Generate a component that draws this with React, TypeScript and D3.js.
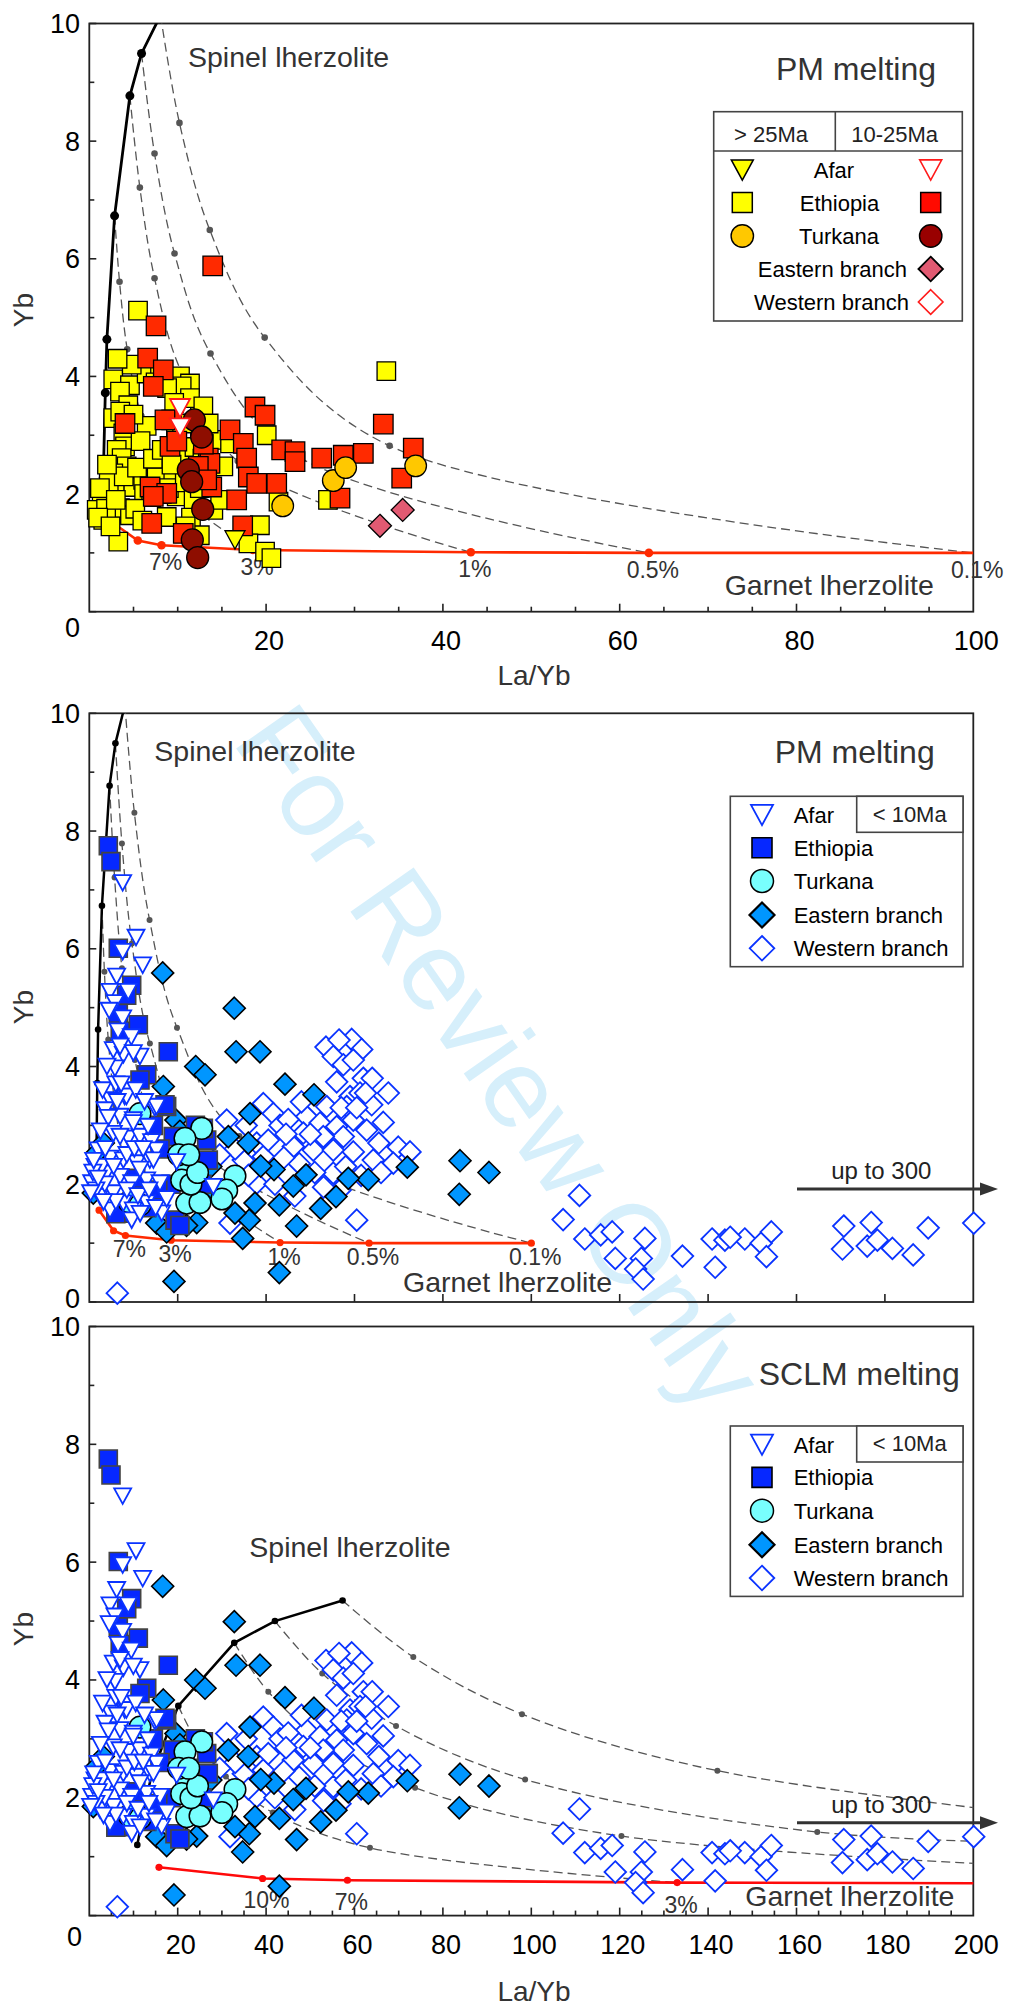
import React from 'react';
import * as d3 from 'd3';

type Pt = [number, number];

// ---------------- Panel 1 observations (PM melting, older lavas) ----------------
const ethiopiaOver25: Pt[] = [
  [5.51,5.12],[33.6,4.09],[2.71,3.95],[4.6,3.85],[3.47,3.74],[4.41,3.51],[6.49,4.05],[8.0,4.08],[10.26,4.0],
  [11.39,3.88],[10.45,3.83],[12.52,3.46],[11.39,3.63],[2.71,3.29],[6.49,3.16],[3.85,3.03],[4.04,2.81],[3.1,2.75],
  [3.66,2.61],[4.23,2.47],[2.71,2.35],[2.91,2.07],[1.4,1.96],[0.84,1.73],[1.58,1.56],[3.47,1.76],[4.6,1.64],
  [4.98,2.12],[6.1,2.24],[7.62,2.29],[9.5,2.35],[9.89,1.96],[8.76,1.61],[11.02,2.63],[14.03,2.92],[15.16,2.47],
  [14.03,1.73],[15.92,2.86],[20.07,3.0],[12.9,3.49],[12.52,3.03],[3.28,1.19],[19.3,1.47],[18.0,1.16],[19.88,1.02],
  [20.6,0.91],[21.4,1.87],[27.0,1.9],[14.8,1.9],[2.2,2.2],[1.9,1.75],[1.2,2.1],[3.0,1.9],[3.9,2.3],[5.4,2.45],
  [6.2,2.0],[7.0,1.95],[8.2,2.0],[9.0,2.1],[10.8,2.2],[11.8,1.9],[12.5,2.1],[13.2,2.3],[3.5,3.4],[5.0,3.35],
  [9.8,3.0],[10.5,3.2],[11.9,2.8],[12.8,2.6],[13.5,3.2],[4.8,4.2],[3.2,4.3],[7.5,3.9],[8.8,3.8],[9.6,3.55],
  [1.0,1.6],[2.4,1.45],[5.2,1.75],[6.0,1.55],[11.5,1.6],[12.5,1.3],[10.9,1.45],[2.0,2.5],[5.8,2.9],[7.2,2.6],
  [8.2,2.75],[9.3,2.5]
];
const ethiopia10to25: Pt[] = [
  [13.96,5.88],[7.55,4.86],[6.6,4.31],[8.37,4.11],[7.24,3.83],[18.74,3.48],[19.88,3.34],[4.04,3.2],[9.32,3.26],
  [15.92,3.09],[17.42,2.86],[33.26,3.19],[36.65,2.78],[9.13,2.81],[13.46,2.61],[13.09,2.44],[17.8,2.61],[17.99,2.29],
  [21.76,2.75],[23.27,2.72],[26.29,2.61],[28.73,2.66],[31.0,2.69],[35.34,2.27],[28.36,1.93],[21.2,2.18],[18.94,2.18],
  [16.67,1.9],[13.85,2.12],[6.87,2.12],[8.76,2.01],[7.24,1.96],[7.06,1.5],[10.63,1.33],[17.35,1.46],[13.65,2.52],
  [23.27,2.55],[12.33,2.47],[13.28,2.24],[8.56,3.26],[9.9,2.9],[12.9,2.85]
];
const turkanaOver25: Pt[] = [[21.88,1.8],[27.6,2.23],[29.0,2.45],[36.92,2.48]];
const turkana10to25: Pt[] = [[11.88,3.26],[12.71,2.97],[11.2,2.41],[11.58,2.21],[12.83,1.74],[11.65,1.22],[12.26,0.92]];
const afarOver25: Pt[] = [[16.48,1.22]];
const afar10to25: Pt[] = [[10.26,3.46],[10.26,3.13]];
const eastern10to25: Pt[] = [[32.88,1.46],[35.45,1.73]];

// ---------------- Panels 2 & 3 observations (< 10 Ma) ----------------
const afarYoung: Pt[] = [
  [7.55,7.12],[10.57,6.19],[12.08,5.72],[7.55,5.95],[6.19,5.53],[4.68,5.27],[8.82,5.27],[5.8,5.08],[7.55,4.82],
  [4.5,4.95],[6.5,4.6],[9.5,4.5],[5.43,4.28],[7.71,4.2],[5.8,3.97],[11.45,4.17],[4.68,3.43],[8.0,3.49],[14.8,3.3],
  [3.56,3.26],[6.95,3.15],[9.96,3.09],[5.43,2.86],[8.82,2.78],[11.45,2.81],[14.09,2.72],[2.0,2.58],[4.68,2.44],
  [7.7,2.41],[10.7,2.36],[13.7,2.41],[1.29,2.3],[3.93,2.19],[6.95,2.13],[9.59,2.02],[12.98,2.07],[16.0,2.02],
  [0.54,2.02],[2.42,1.79],[5.43,1.85],[7.7,1.68],[9.96,1.56],[12.98,1.68],[16.37,1.51],[4.68,1.56],[9.59,1.39],
  [28.06,1.96],[19.77,2.38],[15.2,2.58],[13.3,2.98],[6.95,4.34],[9.96,4.23],[8.4,3.49],[15.2,3.32],[4.3,3.13],
  [6.95,2.81],[9.96,3.04],[2.8,2.3],[11.45,2.25],[14.5,2.41],[3.0,3.6],[4.0,4.0],[6.0,3.7],[10.5,3.6],[12.5,3.4],
  [3.5,2.0],[1.5,1.9],[0.8,2.2],[2.0,2.1],[6.0,1.7],[8.5,1.9],[11.0,1.8],[13.5,1.9],[15.0,1.6],[3.2,1.7],[5.5,2.3],
  [8.5,2.5],[11.5,1.5],[17.5,1.75],[2.5,2.9],[3.6,2.6],[10.2,2.6],[12.2,2.6],[6.3,3.4],[7.2,3.7],[1.0,2.4],[0.3,1.85]
];
const ethiopiaYoung: Pt[] = [
  [4.3,7.75],[4.91,7.48],[6.56,6.01],[9.59,5.38],[8.46,5.21],[6.56,4.9],[11.09,4.71],[17.87,4.25],[12.99,3.86],
  [11.47,3.77],[17.5,3.32],[17.13,3.35],[26.56,2.75],[26.92,2.41],[25.8,2.95],[19.39,1.39],[19.0,2.81],[8.08,1.51],
  [14.5,3.0],[16.0,2.6],[10.5,2.1],[18.5,2.0],[22.5,2.5],[24.0,3.0],[25.5,2.0],[13.0,1.6],[7.0,4.6],[6.0,1.5],
  [20.5,1.3],[15.5,1.9]
];
const turkanaYoung: Pt[] = [
  [25.43,2.95],[21.65,2.78],[32.96,2.14],[22.04,2.24],[20.9,2.07],[22.04,1.68],[25.05,1.69],[31.09,1.9],[11.47,3.2],
  [23.0,2.0],[24.5,2.2],[9.0,1.7],[11.5,1.65],[20.2,2.5],[30.0,1.75],[22.5,2.5]
];
const easternYoung: Pt[] = [
  [16.6,5.59],[32.8,4.99],[33.2,4.25],[38.62,4.25],[24.07,4.0],[26.18,3.86],[44.27,3.7],[50.84,3.52],[16.75,3.66],
  [36.36,3.2],[83.87,2.4],[90.43,2.2],[83.7,1.83],[71.95,2.29],[63.12,2.08],[58.6,2.1],[55.81,1.79],[52.35,1.59],
  [49.03,2.16],[46.15,1.97],[42.99,1.65],[46.9,1.29],[41.79,2.25],[38.78,2.31],[35.97,2.7],[31.45,2.81],[37.49,1.68],
  [36.2,1.39],[32.96,1.51],[34.7,1.08],[24.3,1.35],[42.99,0.5],[19.16,0.35],[15.25,1.34],[17.5,1.19],[19.6,3.09],
  [28.8,1.85],[0.9,1.85],[1.67,2.53],[3.17,2.7],[20.5,2.9],[22.0,1.3],[27.5,2.3]
];
const westernYoung: Pt[] = [
  [59.37,4.46],[61.63,4.29],[53.55,4.33],[55.2,4.17],[57.47,4.03],[59.73,4.11],[61.99,3.8],[67.65,3.55],[58.98,3.49],
  [55.97,3.74],[61.24,3.55],[63.89,3.35],[58.24,3.32],[53.71,3.32],[49.19,3.15],[52.2,3.04],[55.97,2.98],[59.73,3.09],
  [62.76,2.92],[57.47,2.81],[52.94,2.81],[48.42,2.87],[46.15,2.64],[50.68,2.58],[55.2,2.58],[59.73,2.55],[64.25,2.41],
  [69.9,2.63],[72.56,2.55],[68.78,2.36],[55.2,2.19],[56.72,1.9],[60.5,1.39],[39.37,3.37],[41.63,3.2],[43.14,3.0],
  [31.09,3.09],[37.87,2.7],[39.37,2.47],[34.84,2.41],[37.87,2.02],[31.83,1.34],[45.0,3.1],[47.5,2.35],[51.0,2.2],
  [53.0,1.95],[58.0,2.3],[61.5,2.15],[65.5,2.7],[66.5,3.05],[64.0,3.8],[57.0,3.3],[50.0,2.85],[44.0,2.45],[42.0,2.0],
  [33.0,2.6],[35.5,3.0],[40.5,2.75],[46.5,1.8],[62.5,3.55],[60.5,3.3],[56.5,4.45],[66.0,2.2],[29.5,2.5],[36.0,2.15],
  [48.0,3.4],[44.5,2.85],
  [110.9,1.81],[107.2,1.4],[112.1,1.07],[115.7,1.14],[118.3,1.19],[125.7,1.08],[119.0,0.74],[124.9,0.74],[123.6,0.56],
  [125.3,0.39],[134.2,0.78],[140.9,1.07],[143.8,1.05],[148.3,1.07],[152.0,1.0],[154.3,1.19],[153.2,0.77],[141.6,0.59],
  [145.0,1.1],[170.7,1.29],[176.9,1.35],[170.4,0.9],[176.0,0.95],[178.3,1.05],[181.7,0.91],[186.4,0.8],[189.8,1.26],
  [200.1,1.34],[6.34,0.15]
];

// ---------------- Melting models ----------------
const pmSpinelCurve: Pt[] = [[1.58,2.28],[1.81,3.72],[1.99,4.63],[2.86,6.73],[4.59,8.77],[5.91,9.49],[8.06,10.14]];
const pmGarnetCurve: Pt[] = [[2.21,1.56],[5.49,1.21],[8.17,1.13],[18.53,1.05],[43.16,1.01],[63.3,1.0],[100,1.0]];
const pmGarnetLabels: string[] = ['', '', '7%', '3%', '1%', '0.5%', '0.1%'];
const pmMixingCurves: Pt[][] = [
  [[8.06,10.14],[10.2,8.31],[13.63,6.49],[19.84,4.66],[33.97,2.82],[100,1.0]],
  [[5.91,9.49],[7.38,7.79],[9.64,6.09],[13.71,4.39],[23.0,2.69],[63.3,1.0]],
  [[4.59,8.77],[5.72,7.21],[7.38,5.67],[10.32,4.11],[16.79,2.56],[43.16,1.01]],
  [[2.86,6.73],[3.42,5.61],[4.29,4.46],[5.88,3.33],[8.88,2.18],[18.53,1.05]]
];
const sclmSpinelCurve: Pt[] = [[10.86,1.2],[12.76,1.96],[14.25,2.43],[20.14,3.56],[32.8,4.63],[42.0,5.0],[57.3,5.35]];
const sclmGarnetCurve: Pt[] = [[15.77,0.82],[39.2,0.63],[58.4,0.6],[133.0,0.56],[200.3,0.55]];
const sclmGarnetLabels: string[] = ['', '10%', '7%', '3%', ''];
const sclmMixingCurves: Pt[][] = [
  [[57.3,5.35],[73.3,4.39],[97.9,3.42],[142.1,2.46],[240,1.5]],
  [[42.0,5.0],[52.7,4.11],[69.4,3.22],[98.6,2.31],[164.7,1.42],[240,1.2]],
  [[32.8,4.63],[40.5,3.8],[52.6,2.99],[73.7,2.17],[120.4,1.35],[280,0.62]],
  [[20.14,3.56],[24.3,2.96],[30.9,2.36],[41.5,1.75],[63.5,1.15],[133.0,0.56]]
];

const yTickValues: number[] = [0,1,2,3,4,5,6,7,8,9,10];
const yTickLabels: number[] = [2,4,6,8,10];
const xLabelsPanel1: number[] = [20,40,60,80,100];
const xLabelsPanel3: number[] = [20,40,60,80,100,120,140,160,180,200];

const FONT = "'Liberation Sans', Arial, Helvetica, sans-serif";
const X0 = 89.3, X1 = 973.3;

const sq = (s: number) => `M${-s/2},${-s/2}h${s}v${s}h${-s}Z`;
const dia = (h: number) => `M0,${-h}L${h},0L0,${h}L${-h},0Z`;
const tri = (w: number) => { const h = w * 0.92; return `M${-w/2},${-h/2}L${w/2},${-h/2}L0,${h/2}Z`; };

type Model = {
  spinel: Pt[]; garnet: Pt[]; labels: string[]; mixing: Pt[][];
  red: string; blackW: number; blackR: number; grayR: number; redR: number; labelDy: number;
};

type PanelCfg = {
  id: string; top: number; bottom: number; xMax: number;
  xTickStep: number; xLabels: number[]; model: Model;
};

function Panel({ cfg, children }: { cfg: PanelCfg; children?: React.ReactNode }) {
  const xs = d3.scaleLinear().domain([0, cfg.xMax]).range([X0, X1]);
  const ys = d3.scaleLinear().domain([0, 10]).range([cfg.bottom, cfg.top]);
  const lin = d3.line<Pt>().x(d => xs(d[0])).y(d => ys(d[1]));
  const smooth = d3.line<Pt>().x(d => xs(d[0])).y(d => ys(d[1])).curve(d3.curveCatmullRom.alpha(0.5));
  const m = cfg.model;
  const xTicks = d3.range(cfg.xTickStep, cfg.xMax, cfg.xTickStep);
  return (
    <g>
      <defs>
        <clipPath id={`clip-${cfg.id}`}>
          <rect x={X0} y={cfg.top} width={X1 - X0} height={cfg.bottom - cfg.top} />
        </clipPath>
      </defs>
      {/* frame */}
      <rect x={X0} y={cfg.top} width={X1 - X0} height={cfg.bottom - cfg.top} fill="none" stroke="#222" strokeWidth={1.8} />
      {yTickValues.map(v => (
        <line key={'yt' + v} x1={X0} x2={X0 + (v % 2 === 0 ? 7 : 5)} y1={ys(v)} y2={ys(v)} stroke="#222" strokeWidth={1.6} />
      ))}
      {xTicks.map(v => (
        <line key={'xt' + v} x1={xs(v)} x2={xs(v)} y1={cfg.bottom} y2={cfg.bottom - (v % 20 === 0 ? 8 : 5)} stroke="#222" strokeWidth={1.6} />
      ))}
      {yTickLabels.map(v => (
        <text key={'yl' + v} x={80} y={ys(v) + 9.5} textAnchor="end" fontSize={27} fontFamily={FONT} fill="#000">{v}</text>
      ))}
      {cfg.xLabels.map(v => (
        <text key={'xl' + v} x={xs(v) + 3} y={cfg.bottom + 38} textAnchor="middle" fontSize={27} fontFamily={FONT} fill="#000">{v}</text>
      ))}
      {/* model */}
      <g clipPath={`url(#clip-${cfg.id})`}>
        {m.mixing.map((c, i) => (
          <path key={'mx' + i} d={smooth(c) || ''} fill="none" stroke="#555" strokeWidth={1.3} strokeDasharray="9,5" />
        ))}
        {m.mixing.map((c, i) => c.slice(1, -1).map((p, j) => (
          <circle key={'md' + i + '-' + j} cx={xs(p[0])} cy={ys(p[1])} r={m.grayR} fill="#555" />
        )))}
        <path d={lin(m.spinel) || ''} fill="none" stroke="#000" strokeWidth={m.blackW} />
        {m.spinel.map((p, i) => (
          <circle key={'sp' + i} cx={xs(p[0])} cy={ys(p[1])} r={m.blackR} fill="#000" />
        ))}
        <path d={lin(m.garnet) || ''} fill="none" stroke={m.red} strokeWidth={2.6} />
        {m.garnet.filter(p => p[0] < cfg.xMax).map((p, i) => (
          <circle key={'gt' + i} cx={xs(p[0])} cy={ys(p[1])} r={m.redR} fill={m.red} />
        ))}
      </g>
      {m.garnet.map((p, i) => m.labels[i] ? (
        <text key={'gl' + i} x={xs(p[0]) + 4} y={ys(p[1]) + m.labelDy} textAnchor="middle" fontSize={23} fontFamily={FONT} fill="#333">{m.labels[i]}</text>
      ) : null)}
      {children && (typeof children === 'function' ? null : children)}
    </g>
  );
}

function Marks({ cfg, pts, kind, fill, stroke, sw, size }:
  { cfg: PanelCfg; pts: Pt[]; kind: string; fill: string; stroke: string; sw: number; size: number }) {
  const xs = d3.scaleLinear().domain([0, cfg.xMax]).range([X0, X1]);
  const ys = d3.scaleLinear().domain([0, 10]).range([cfg.bottom, cfg.top]);
  return (
    <g>
      {pts.map((p, i) => {
        const t = `translate(${xs(p[0])},${ys(p[1])})`;
        if (kind === 'circle') return <circle key={i} cx={xs(p[0])} cy={ys(p[1])} r={size} fill={fill} stroke={stroke} strokeWidth={sw} />;
        const d = kind === 'square' ? sq(size) : kind === 'diamond' ? dia(size) : tri(size);
        return <path key={i} d={d} transform={t} fill={fill} stroke={stroke} strokeWidth={sw} />;
      })}
    </g>
  );
}

const pmModel1: Model = { spinel: pmSpinelCurve, garnet: pmGarnetCurve, labels: pmGarnetLabels, mixing: pmMixingCurves,
  red: '#ff2a00', blackW: 2.8, blackR: 4.5, grayR: 3.3, redR: 4.3, labelDy: 25 };
const pmModel2: Model = { ...pmModel1, blackW: 2.5, blackR: 3.3, grayR: 3.0, redR: 3.6, labelDy: 22 };
const sclmModel: Model = { spinel: sclmSpinelCurve, garnet: sclmGarnetCurve, labels: sclmGarnetLabels, mixing: sclmMixingCurves,
  red: '#ff0a0a', blackW: 2.5, blackR: 3.3, grayR: 3.0, redR: 3.6, labelDy: 30 };

const panel1: PanelCfg = { id: 'p1', top: 23.5, bottom: 611.7, xMax: 100, xTickStep: 5, xLabels: xLabelsPanel1, model: pmModel1 };
const panel2: PanelCfg = { id: 'p2', top: 713.3, bottom: 1302, xMax: 200, xTickStep: 20, xLabels: [], model: pmModel2 };
const panel3: PanelCfg = { id: 'p3', top: 1326.5, bottom: 1915.6, xMax: 200, xTickStep: 5, xLabels: xLabelsPanel3, model: sclmModel };

const BLUE = '#0a33ff';

function YoungLegend({ top }: { top: number }) {
  const rows = [18.7, 51.4, 84.7, 118.7, 152].map(r => top + r);
  const sx = 762, lx = 793.7;
  const txt = (y: number, s: string) => <text x={lx} y={y + 8} fontSize={22} fontFamily={FONT} fill="#000">{s}</text>;
  return (
    <g>
      <rect x={730.3} y={top} width={232.7} height={170.4} fill="#fff" stroke="#444" strokeWidth={1.6} />
      <rect x={856.7} y={top} width={106.3} height={36} fill="#fff" stroke="#444" strokeWidth={1.6} />
      <text x={909.7} y={top + 25.4} textAnchor="middle" fontSize={22} fontFamily={FONT} fill="#222">&lt; 10Ma</text>
      <path d={tri(22)} transform={`translate(${sx},${rows[0]})`} fill="#fff" stroke={BLUE} strokeWidth={1.8} />
      {txt(rows[0], 'Afar')}
      <path d={sq(20)} transform={`translate(${sx},${rows[1]})`} fill="#0628ff" stroke="#000" strokeWidth={1.6} />
      {txt(rows[1], 'Ethiopia')}
      <circle cx={sx} cy={rows[2]} r={11.5} fill="#78fffe" stroke="#000" strokeWidth={1.5} />
      {txt(rows[2], 'Turkana')}
      <path d={dia(12.5)} transform={`translate(${sx},${rows[3]})`} fill="#0096ff" stroke="#000" strokeWidth={2.2} />
      {txt(rows[3], 'Eastern branch')}
      <path d={dia(12.3)} transform={`translate(${sx},${rows[4]})`} fill="#fff" stroke={BLUE} strokeWidth={1.8} />
      {txt(rows[4], 'Western branch')}
    </g>
  );
}

function OldLegend() {
  const rows = [170, 202.5, 236, 269, 302];
  const lx = 742.3, rx = 930.7;
  return (
    <g fontFamily={FONT}>
      <rect x={713.7} y={111.7} width={248.6} height={209.3} fill="#fff" stroke="#444" strokeWidth={1.6} />
      <line x1={713.7} x2={962.3} y1={151} y2={151} stroke="#444" strokeWidth={1.6} />
      <line x1={835.3} x2={835.3} y1={111.7} y2={151} stroke="#444" strokeWidth={1.6} />
      <text x={771} y={141.5} textAnchor="middle" fontSize={22} fill="#222">&gt; 25Ma</text>
      <text x={894.7} y={141.5} textAnchor="middle" fontSize={22} fill="#222">10-25Ma</text>
      <path d={tri(22)} transform={`translate(${lx},${rows[0]})`} fill="#ffff00" stroke="#000" strokeWidth={1.5} />
      <path d={tri(22)} transform={`translate(${rx},${rows[0]})`} fill="#fff" stroke="#ff1a1a" strokeWidth={1.6} />
      <text x={834} y={rows[0] + 8} textAnchor="middle" fontSize={22} fill="#000">Afar</text>
      <path d={sq(20)} transform={`translate(${lx},${rows[1]})`} fill="#ffff00" stroke="#000" strokeWidth={1.5} />
      <path d={sq(20)} transform={`translate(${rx},${rows[1]})`} fill="#ff0a00" stroke="#000" strokeWidth={1.5} />
      <text x={839.5} y={rows[1] + 8} textAnchor="middle" fontSize={22} fill="#000">Ethiopia</text>
      <circle cx={lx} cy={rows[2]} r={11.2} fill="#ffc800" stroke="#000" strokeWidth={1.4} />
      <circle cx={rx} cy={rows[2]} r={11.2} fill="#990000" stroke="#000" strokeWidth={1.4} />
      <text x={839} y={rows[2] + 8} textAnchor="middle" fontSize={22} fill="#000">Turkana</text>
      <path d={dia(12.3)} transform={`translate(${rx},${rows[3]})`} fill="#e25a72" stroke="#000" strokeWidth={1.8} />
      <text x={907} y={rows[3] + 8} textAnchor="end" fontSize={22} fill="#000">Eastern branch</text>
      <path d={dia(12.3)} transform={`translate(${rx},${rows[4]})`} fill="#fff" stroke="#ff1a1a" strokeWidth={1.6} />
      <text x={909} y={rows[4] + 8} textAnchor="end" fontSize={22} fill="#000">Western branch</text>
    </g>
  );
}

function Arrow({ y }: { y: number }) {
  return (
    <g>
      <line x1={797} x2={984} y1={y} y2={y} stroke="#333" strokeWidth={3} />
      <path d={`M998,${y}L980,${y - 6.5}L980,${y + 6.5}Z`} fill="#333" />
      <text x={881.3} y={y - 10} textAnchor="middle" fontSize={24} fontFamily={FONT} fill="#222">up to 300</text>
    </g>
  );
}

function YoungData({ cfg }: { cfg: PanelCfg }) {
  return (
    <g>
      <Marks cfg={cfg} pts={westernYoung} kind="diamond" fill="#fff" stroke={BLUE} sw={1.8} size={10.8} />
      <Marks cfg={cfg} pts={easternYoung} kind="diamond" fill="#0096ff" stroke="#000" sw={1.6} size={11} />
      <Marks cfg={cfg} pts={ethiopiaYoung} kind="square" fill="#0628ff" stroke="#444" sw={1.6} size={18} />
      <Marks cfg={cfg} pts={turkanaYoung} kind="circle" fill="#78fffe" stroke="#000" sw={1.5} size={10.8} />
      <Marks cfg={cfg} pts={afarYoung} kind="triangle" fill="#fff" stroke={BLUE} sw={1.8} size={17} />
    </g>
  );
}

export default function App() {
  const T = (props: any) => <text fontFamily={FONT} {...props} />;
  return (
    <svg width={1016} height={2008} viewBox="0 0 1016 2008" style={{ position: 'absolute', left: 0, top: 0, background: '#fff' }}>
      <rect x={0} y={0} width={1016} height={2008} fill="#fff" />
      <text transform="translate(500,1058) rotate(55)" textAnchor="middle" dominantBaseline="central"
        fontSize={112} fontFamily={FONT} fill="#d6effb">For Review Only</text>

      {/* Panel 1 */}
      <Panel cfg={panel1} />
      <Marks cfg={panel1} pts={ethiopiaOver25} kind="square" fill="#ffff00" stroke="#000" sw={1.3} size={18.5} />
      <Marks cfg={panel1} pts={ethiopia10to25} kind="square" fill="#ff2a00" stroke="#000" sw={1.3} size={19.5} />
      <Marks cfg={panel1} pts={turkanaOver25} kind="circle" fill="#ffc800" stroke="#000" sw={1.3} size={10.8} />
      <Marks cfg={panel1} pts={turkana10to25} kind="circle" fill="#8e0e00" stroke="#000" sw={1.3} size={11} />
      <Marks cfg={panel1} pts={afarOver25} kind="triangle" fill="#ffff00" stroke="#000" sw={1.3} size={20} />
      <Marks cfg={panel1} pts={afar10to25} kind="triangle" fill="#fff" stroke="#ff1a1a" sw={1.8} size={20} />
      <Marks cfg={panel1} pts={eastern10to25} kind="diamond" fill="#e25a72" stroke="#000" sw={1.3} size={11.5} />
      <T x={80} y={636.5} textAnchor="end" fontSize={27} fill="#000">0</T>
      <T x={188} y={67} fontSize={28.5} fill="#333">Spinel lherzolite</T>
      <T x={724.7} y={595} fontSize={28.5} fill="#333">Garnet lherzolite</T>
      <T x={936} y={80} textAnchor="end" fontSize={32} fill="#333">PM melting</T>
      <T x={534} y={685} textAnchor="middle" fontSize={28} fill="#333">La/Yb</T>
      <T transform="translate(33,310) rotate(-90)" textAnchor="middle" fontSize={28} fill="#333">Yb</T>
      <OldLegend />

      {/* Panel 2 */}
      <Panel cfg={panel2} />
      <YoungData cfg={panel2} />
      <T x={80} y={1308} textAnchor="end" fontSize={27} fill="#000">0</T>
      <T x={154.3} y={761} fontSize={28.5} fill="#333">Spinel lherzolite</T>
      <T x={403} y={1291.7} fontSize={28.5} fill="#333">Garnet lherzolite</T>
      <T x={934.7} y={762.7} textAnchor="end" fontSize={32} fill="#333">PM melting</T>
      <T transform="translate(33,1007) rotate(-90)" textAnchor="middle" fontSize={28} fill="#333">Yb</T>
      <YoungLegend top={796.3} />
      <Arrow y={1189} />

      {/* Panel 3 */}
      <Panel cfg={panel3} />
      <YoungData cfg={panel3} />
      <T x={82} y={1946} textAnchor="end" fontSize={27} fill="#000">0</T>
      <T x={249.3} y={1557.3} fontSize={28.5} fill="#333">Spinel lherzolite</T>
      <T x={745.3} y={1906} fontSize={28.5} fill="#333">Garnet lherzolite</T>
      <T x={959.7} y={1385} textAnchor="end" fontSize={32} fill="#333">SCLM melting</T>
      <T x={534} y={2001} textAnchor="middle" fontSize={28} fill="#333">La/Yb</T>
      <T transform="translate(33,1629) rotate(-90)" textAnchor="middle" fontSize={28} fill="#333">Yb</T>
      <YoungLegend top={1426} />
      <Arrow y={1822.7} />
    </svg>
  );
}
